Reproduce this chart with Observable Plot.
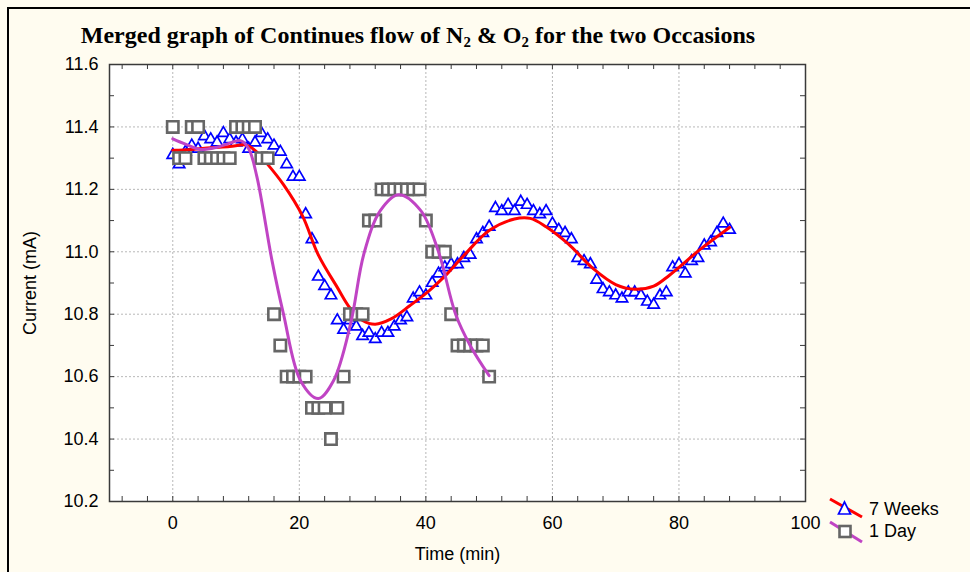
<!DOCTYPE html>
<html>
<head>
<meta charset="utf-8">
<script src="https://cdn.jsdelivr.net/npm/d3@7"></script>
<script src="https://cdn.jsdelivr.net/npm/@observablehq/plot@0.6"></script>
<style>
  html, body { margin: 0; padding: 0; background: #ffffff; }
  #wrap { position: relative; width: 970px; height: 572px; background: #fffcf0; overflow: hidden; }
  #edge { position: absolute; left: 7px; top: 7px; width: 980px; height: 600px; border-left: 2px solid #000; border-top: 2px solid #000; pointer-events: none; }
  #title { height: 54px; box-sizing: border-box; padding-top: 22px; width: 836px; text-align: center;
           font: bold 24px "Liberation Serif", "Times New Roman", serif; color: #000; line-height: normal; white-space: nowrap; }
  #title sub { font-size: 0.62em; vertical-align: -0.3em; line-height: 0; }
  #chart svg { display: block; }
  #legend { position: absolute; left: 820px; top: 490px; }
</style>
</head>
<body>
<div id="wrap">
  <div id="title">Merged graph of Continues flow of N<sub>2</sub> &amp; O<sub>2</sub> for the two Occasions</div>
  <div id="chart"></div>
  <div id="legend"></div>
  <div id="edge"></div>
</div>
<script>
// ---- Data ----
const weeksTime = [0,1,2,3,4,5,6,7,8,9,10,11,12,13,14,15,16,17,18,19,20,21,22,23,24,25,26,27,28,29,30,31,32,33,34,35,36,37,38,39,40,41,42,43,44,45,46,47,48,49,50,51,52,53,54,55,56,57,58,59,60,61,62,63,64,65,66,67,68,69,70,71,72,73,74,75,76,77,78,79,80,81,82,83,84,85,86,87,88];
const weeksCurrent = [11.31,11.28,11.32,11.34,11.33,11.37,11.36,11.35,11.38,11.36,11.35,11.36,11.33,11.35,11.38,11.36,11.34,11.32,11.28,11.24,11.24,11.12,11.04,10.92,10.89,10.86,10.78,10.75,10.78,10.76,10.73,10.74,10.72,10.74,10.74,10.76,10.78,10.79,10.85,10.87,10.86,10.90,10.93,10.95,10.96,10.96,10.98,10.99,11.04,11.06,11.08,11.14,11.13,11.15,11.13,11.16,11.15,11.13,11.12,11.13,11.09,11.07,11.06,11.04,10.98,10.97,10.96,10.91,10.88,10.87,10.86,10.85,10.87,10.87,10.86,10.84,10.83,10.86,10.87,10.95,10.96,10.93,10.97,10.98,11.02,11.03,11.06,11.09,11.07];

const dayTime = [0,1,2,3,4,5,6,7,8,9,10,11,12,13,14,15,16,17,18,19,20,21,22,23,24,25,26,27,28,29,30,31,32,33,34,35,36,37,38,39,40,41,42,43,44,45,46,47,48,49,50];
const dayCurrent = [11.4,11.3,11.3,11.4,11.4,11.3,11.3,11.3,11.3,11.3,11.4,11.4,11.4,11.4,11.3,11.3,10.8,10.7,10.6,10.6,10.6,10.6,10.5,10.5,10.5,10.4,10.5,10.6,10.8,10.8,10.8,11.1,11.1,11.2,11.2,11.2,11.2,11.2,11.2,11.2,11.1,11.0,11.0,11.0,10.8,10.7,10.7,10.7,10.7,10.7,10.6];

// smoothed fit curves
const weeksFitTime = [0,3,6,9,11.5,13,15,17.5,20.5,23,26,28,30,32,34.5,37.5,40.5,43,46,50,54,56.5,59,62.5,66.5,70,73,76,78.5,83.5,88];
const weeksFitCurrent = [11.325,11.328,11.333,11.337,11.342,11.325,11.28,11.215,11.115,10.99,10.886,10.82,10.78,10.768,10.785,10.828,10.875,10.922,10.988,11.068,11.105,11.107,11.08,11.025,10.945,10.895,10.88,10.89,10.925,11.01,11.078];
const dayFitTime = [0,2,4.3,7,9,10.7,12,13.3,15.7,17.5,20.2,23,25.4,28.1,30.2,32.8,35.7,39.2,42,44.7,47,50];
const dayFitCurrent = [11.362,11.345,11.328,11.335,11.348,11.356,11.33,11.24,10.97,10.80,10.587,10.53,10.587,10.769,10.993,11.132,11.183,11.132,11.0,10.8,10.7,10.603];

const xTicks = [0,20,40,60,80,100];
const xGrid = [0,20,40,60,80];
const xMinor = [-8,-4,0,4,8,12,16,20,24,28,32,36,40,44,48,52,56,60,64,68,72,76,80,84,88,92,96];
const yTicks = [10.2,10.4,10.6,10.8,11.0,11.2,11.4,11.6];
const yGrid = [10.4,10.6,10.8,11.0,11.2,11.4];
const yMinor = [10.3,10.4,10.5,10.6,10.7,10.8,10.9,11.0,11.1,11.2,11.3,11.4,11.5];

const seriesNames = ["7 Weeks", "1 Day"];

// ---- build tables ----
const weeks = weeksTime.map((t, i) => ({t, v: weeksCurrent[i]}));
const day = dayTime.map((t, i) => ({t, v: dayCurrent[i]}));
const weeksFit = weeksFitTime.map((t, i) => ({t, v: weeksFitCurrent[i]}));
const dayFit = dayFitTime.map((t, i) => ({t, v: dayFitCurrent[i]}));

const W = 970, H = 518, mT = 10, mB = 71, mL = 109, mR = 165;
const innerH = H - mT - mB, innerW = W - mL - mR;
const tick = 5;
const axisColor = "#3a3a3a";

const chart = Plot.plot({
  width: W, height: H,
  marginTop: mT, marginBottom: mB, marginLeft: mL, marginRight: mR,
  x: {domain: [-10, 100]},
  y: {domain: [10.2, 11.6]},
  style: {background: "transparent", fontFamily: "'Liberation Sans', Arial, sans-serif", fontSize: "18px", color: "#000"},
  marks: [
    Plot.frame({fill: "white", stroke: null}),
    Plot.gridX(xGrid, {stroke: "#b8b8b8", strokeOpacity: 1, strokeDasharray: "2,2"}),
    Plot.gridY(yGrid, {stroke: "#b8b8b8", strokeOpacity: 1, strokeDasharray: "2,2"}),
    // inward ticks on all four sides
    Plot.tickX(xMinor, {x: d => d, stroke: axisColor, insetTop: innerH - tick}),
    Plot.tickX(xMinor, {x: d => d, stroke: axisColor, insetBottom: innerH - tick}),
    Plot.tickY(yMinor, {y: d => d, stroke: axisColor, insetRight: innerW - tick}),
    Plot.tickY(yMinor, {y: d => d, stroke: axisColor, insetLeft: innerW - tick}),
    Plot.axisX(xTicks, {tickSize: 0, tickPadding: 15, tickFormat: d => String(d),
      label: "Time (min)", labelAnchor: "center", labelOffset: 58, labelArrow: "none"}),
    Plot.axisY(yTicks, {tickSize: 0, tickPadding: 11, tickFormat: d => d.toFixed(1),
      label: "Current (mA)", labelAnchor: "center", labelOffset: 86, labelArrow: "none"}),
    Plot.dot(weeks, {x: "t", y: "v", symbol: "triangle", r: 4.2, stroke: "#0000ff", strokeWidth: 1.7, fill: "white"}),
    Plot.line(weeksFit, {x: "t", y: "v", stroke: "#ff0000", strokeWidth: 3, curve: "catmull-rom"}),
    Plot.dot(day, {x: "t", y: "v", symbol: "square", r: 6.4, stroke: "#666666", strokeWidth: 2.6, fill: "white"}),
    Plot.line(dayFit, {x: "t", y: "v", stroke: "#c044c4", strokeWidth: 3, curve: "catmull-rom"}),
    Plot.frame({stroke: axisColor, strokeWidth: 1.5})
  ]
});
document.getElementById("chart").appendChild(chart);

// ---- legend ----
const lg = d3.select("#legend").append("svg").attr("width", 150).attr("height", 60)
  .style("font-family", "'Liberation Sans', Arial, sans-serif").style("font-size", "18px");
// 7 Weeks
lg.append("line").attr("x1", 10).attr("y1", 9).attr("x2", 42).attr("y2", 27).attr("stroke", "#ff0000").attr("stroke-width", 3);
lg.append("path").attr("d", "M24.5,12 L18.5,24 L30.5,24 Z").attr("fill", "white").attr("stroke", "#0000ff").attr("stroke-width", 1.7);
lg.append("text").attr("x", 49).attr("y", 19).attr("dy", "0.35em").text(seriesNames[0]);
// 1 Day
lg.append("line").attr("x1", 10).attr("y1", 32).attr("x2", 42).attr("y2", 52).attr("stroke", "#c044c4").attr("stroke-width", 3);
lg.append("rect").attr("x", 19.5).attr("y", 36).attr("width", 11).attr("height", 11).attr("fill", "white").attr("stroke", "#666666").attr("stroke-width", 2.6);
lg.append("text").attr("x", 49).attr("y", 41).attr("dy", "0.35em").text(seriesNames[1]);
</script>
</body>
</html>
